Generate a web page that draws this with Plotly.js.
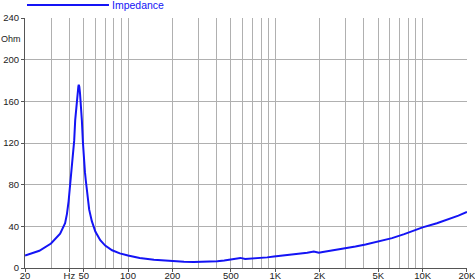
<!DOCTYPE html>
<html>
<head>
<meta charset="utf-8">
<script src="https://cdn.plot.ly/plotly-3.0.1.min.js"></script>
<style>
html,body{margin:0;padding:0;background:#fff;}
#chart{width:475px;height:280px;}
</style>
</head>
<body>
<div id="chart"></div>
<script>
// Data
var freqHz = [20, 25, 30, 34.6, 37.4, 38.5, 39.5, 40.3, 41, 41.8, 42.5, 43.1, 43.8, 44.4, 44.9, 45.5, 46.0, 46.3, 46.7, 47.2, 47.9, 48.6, 49.4, 50.2, 51.0, 51.7, 52.8, 54.5, 56.8, 60, 64.8, 70, 78, 88, 100, 120, 150, 195, 240, 280, 340, 404, 450, 500, 540, 579, 624, 700, 793, 880, 979, 1150, 1336, 1500, 1647, 1826, 1976, 2100, 2500, 3014, 3500, 4100, 5000, 6200, 7500, 8860, 10000, 12500, 15100, 17500, 20000];
var impedanceOhm = [12.0, 16.5, 23.5, 33, 43, 52, 64, 77, 89, 102, 112, 122, 142, 153, 160, 169, 174, 176, 174, 168, 158, 142, 121, 102, 92, 84, 70, 56, 45, 35, 26.7, 21.5, 17, 14, 12, 9.6, 7.9, 6.5, 6.0, 5.7, 5.7, 6.4, 7.2, 8.1, 9.0, 9.7, 8.6, 8.9, 9.5, 10.2, 11.1, 12.0, 13.0, 13.8, 14.6, 15.9, 14.6, 15.4, 17.0, 19.1, 20.7, 22.6, 25.3, 28.7, 32.5, 36.5, 39.0, 43.0, 46.7, 50.3, 53.8];

var xTickVals = [20, 40, 50, 100, 200, 500, 1000, 2000, 5000, 10000, 20000];
var xTickText = ["20", "Hz", "50", "100", "200", "500", "1K", "2K", "5K", "10K", "20K"];
var xMinorGrid = [30, 60, 70, 80, 90, 300, 400, 600, 700, 800, 900, 3000, 4000, 6000, 7000, 8000, 9000];
var yTickVals = [0, 40, 80, 120, 160, 200, 240];
var yTickText = ["0", "40", "80", "120", "160", "200", "240"];
var seriesName = "Impedance";
var yUnit = "Ohm";

var lineColor = "#1414f5";
var gridColor = "#b0b0b0";
var axisColor = "#555555";
var fontFam = "Liberation Sans, Arial, Helvetica, sans-serif";

var trace = {
  x: freqHz,
  y: impedanceOhm,
  type: "scatter",
  mode: "lines",
  name: seriesName,
  line: {color: lineColor, width: 2, shape: "linear"},
  hoverinfo: "x+y",
  cliponaxis: false
};

var layout = {
  width: 475,
  height: 280,
  margin: {l: 25, r: 8, t: 18, b: 12, pad: 0},
  paper_bgcolor: "#ffffff",
  plot_bgcolor: "#ffffff",
  showlegend: false,
  font: {family: fontFam, size: 9.5, color: "#222222"},
  xaxis: {
    type: "log",
    range: [Math.log10(20) - 0.0004, Math.log10(20000) + 0.0004],
    tickmode: "array",
    tickvals: xTickVals,
    ticktext: xTickText,
    ticks: "outside",
    ticklen: 3,
    tickcolor: axisColor,
    ticklabelstandoff: -4,
    ticklabeloverflow: "allow",
    showgrid: true,
    gridcolor: gridColor,
    gridwidth: 1,
    showline: true,
    linecolor: axisColor,
    linewidth: 1,
    zeroline: false,
    automargin: false,
    tickfont: {family: fontFam, size: 9.5, color: "#222222"},
    minor: {tickmode: "array", tickvals: xMinorGrid, showgrid: true, gridcolor: gridColor, gridwidth: 1, ticks: ""}
  },
  yaxis: {
    range: [0, 240],
    tickmode: "array",
    tickvals: yTickVals,
    ticktext: yTickText,
    ticks: "outside",
    ticklen: 3,
    tickcolor: axisColor,
    ticklabeloverflow: "allow",
    showgrid: true,
    gridcolor: gridColor,
    gridwidth: 1,
    showline: true,
    linecolor: axisColor,
    linewidth: 1,
    zeroline: false,
    automargin: false,
    tickfont: {family: fontFam, size: 9.5, color: "#222222"}
  },
  shapes: [
    {type: "line", xref: "paper", yref: "paper", x0: 0.0045, x1: 0.19, y0: 1.052, y1: 1.052,
     line: {color: lineColor, width: 2}}
  ],
  annotations: [
    {xref: "paper", yref: "y", x: -0.0566, y: 220, text: yUnit, showarrow: false,
     xanchor: "left", yanchor: "middle", borderpad: 0,
     font: {family: fontFam, size: 9, color: "#222222"}},
    {xref: "paper", yref: "paper", x: 0.193, y: 1.052, text: seriesName, showarrow: false,
     xanchor: "left", yanchor: "middle", font: {family: fontFam, size: 10.5, color: lineColor}}
  ]
};

Plotly.newPlot("chart", [trace], layout, {staticPlot: true, displayModeBar: false});
</script>
</body>
</html>
